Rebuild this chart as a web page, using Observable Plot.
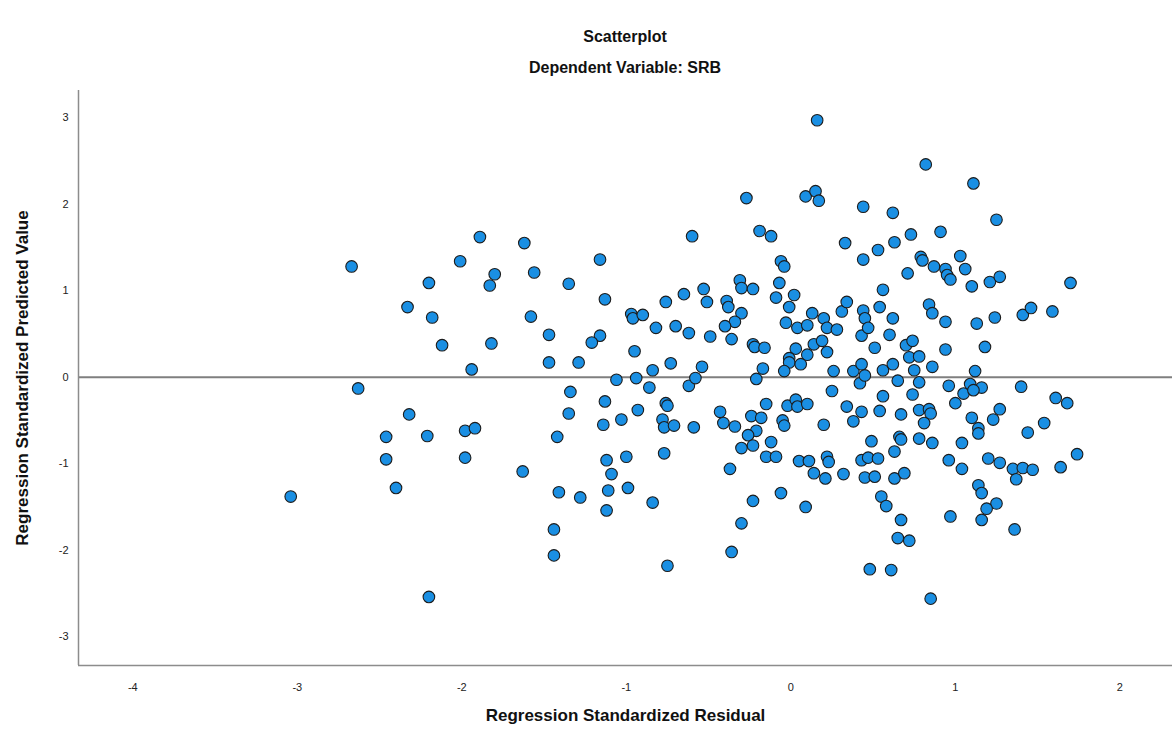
<!DOCTYPE html>
<html><head><meta charset="utf-8">
<script src="https://cdn.jsdelivr.net/npm/d3@7"></script>
<script src="https://cdn.jsdelivr.net/npm/@observablehq/plot@0.6"></script>
<style>
body{margin:0;background:#fff;font-family:"Liberation Sans",Arial,sans-serif;}
#wrap{width:1172px;position:relative;}
#head{height:85px;position:relative;}
.t{position:absolute;left:78px;right:0;text-align:center;font-weight:bold;font-size:16px;line-height:18px;color:#111;}
</style></head><body>
<div id="wrap">
<div id="head">
<div class="t" style="top:28px">Scatterplot</div>
<div class="t" style="top:59px">Dependent Variable: SRB</div>
</div>
<div id="chart"></div>
</div>
<script>
const residual = [
-2.67,-1.89,-1.62,-2.01,-1.80,-1.83,-2.20,-2.33,-2.18,-2.12,-1.82,
-1.94,-2.63,-2.32,-2.46,-2.21,-1.98,-1.92,-2.46,-1.98,-2.40,-3.04,-2.20,-1.63,
-0.60,-1.16,-1.56,-1.35,-0.53,-1.13,-0.65,-0.76,-1.58,-0.97,-0.96,-0.90,-1.47,-1.16,-1.21,-0.82,-0.70,-0.62,-0.95,
-1.47,-1.29,-0.73,-0.84,-1.06,-0.94,-0.86,-0.62,-0.58,-0.54,-1.34,-1.13,-1.35,-0.93,-0.76,-0.75,-1.14,-1.03,-0.78,-0.77,-0.71,-0.59,-1.42,-0.77,-1.12,-1.00,-1.09,-1.11,-0.99,-1.41,-1.28,-0.84,-1.12,-1.44,-1.44,-0.75,
0.16,-0.27,0.09,0.15,0.17,0.44,-0.19,-0.12,0.33,0.44,-0.06,-0.04,-0.31,-0.30,-0.23,-0.07,-0.51,-0.39,-0.38,-0.30,-0.09,0.02,-0.01,-0.34,-0.40,-0.36,-0.49,-0.03,0.04,0.10,0.13,0.20,0.22,0.28,0.31,0.34,0.44,0.43,-0.23,-0.22,-0.16,0.03,0.14,0.19,0.22,0.10,-0.01,
-0.01,0.06,-0.17,-0.21,-0.04,0.26,0.38,0.43,0.42,0.25,-0.43,-0.41,-0.34,-0.24,-0.18,-0.15,-0.02,0.03,0.04,0.10,-0.05,-0.04,-0.21,-0.26,-0.30,-0.23,-0.12,-0.15,-0.09,0.20,0.34,0.38,0.43,0.05,0.11,0.14,0.22,0.23,0.21,0.32,0.43,0.45,-0.37,-0.06,-0.23,0.09,-0.30,-0.36,
0.82,1.11,1.25,0.62,0.73,0.91,0.63,0.53,0.79,0.80,0.87,0.94,0.95,0.97,1.03,1.06,1.10,1.21,1.27,0.71,0.56,0.54,0.45,0.47,0.62,0.60,0.84,0.86,0.94,1.13,1.24,0.51,0.70,0.74,0.72,0.78,0.94,1.18,
0.45,0.56,0.62,0.75,0.86,0.65,0.78,0.74,0.56,0.96,1.05,1.09,1.12,1.16,1.11,1.00,0.54,0.67,0.78,0.84,0.85,0.81,1.10,1.14,1.14,1.23,1.27,0.49,0.66,0.67,0.78,0.86,1.04,0.63,0.47,0.53,0.96,1.04,1.20,1.27,1.35,0.51,0.63,0.69,1.14,1.16,1.25,1.19,1.16,0.55,0.58,0.67,0.97,0.65,0.72,1.36,0.48,0.61,0.85,
1.41,1.46,1.59,1.70,
1.40,1.61,1.68,1.54,1.44,1.74,1.64,1.41,1.47,1.37
];
const predicted = [
1.28,1.62,1.55,1.34,1.19,1.06,1.09,0.81,0.69,0.37,0.39,
0.09,-0.13,-0.43,-0.69,-0.68,-0.62,-0.59,-0.95,-0.93,-1.28,-1.38,-2.54,-1.09,
1.63,1.36,1.21,1.08,1.02,0.90,0.96,0.87,0.70,0.73,0.68,0.72,0.49,0.48,0.40,0.57,0.59,0.51,0.30,
0.17,0.17,0.16,0.08,-0.03,-0.01,-0.12,-0.10,-0.01,0.12,-0.17,-0.28,-0.42,-0.38,-0.30,-0.33,-0.55,-0.49,-0.49,-0.58,-0.56,-0.58,-0.69,-0.88,-0.96,-0.92,-1.12,-1.31,-1.28,-1.33,-1.39,-1.45,-1.54,-1.76,-2.06,-2.18,
2.97,2.07,2.09,2.15,2.04,1.97,1.69,1.63,1.55,1.36,1.34,1.28,1.12,1.03,1.02,1.09,0.87,0.88,0.81,0.74,0.92,0.95,0.81,0.64,0.59,0.44,0.47,0.63,0.57,0.60,0.74,0.68,0.57,0.55,0.76,0.87,0.77,0.48,0.38,0.35,0.34,0.33,0.38,0.42,0.29,0.26,0.22,
0.17,0.15,0.10,-0.02,0.07,0.07,0.07,0.15,-0.07,-0.16,-0.40,-0.53,-0.57,-0.45,-0.47,-0.31,-0.33,-0.26,-0.34,-0.31,-0.50,-0.56,-0.62,-0.67,-0.82,-0.79,-0.75,-0.92,-0.92,-0.55,-0.34,-0.51,-0.40,-0.97,-0.97,-1.11,-0.92,-0.98,-1.17,-1.12,-0.96,-1.16,-1.06,-1.34,-1.43,-1.50,-1.69,-2.02,
2.46,2.24,1.82,1.90,1.65,1.68,1.56,1.47,1.39,1.35,1.28,1.25,1.18,1.13,1.40,1.25,1.05,1.10,1.16,1.20,1.01,0.81,0.68,0.57,0.68,0.49,0.84,0.74,0.64,0.62,0.69,0.34,0.37,0.42,0.23,0.24,0.32,0.35,
0.02,0.08,0.15,0.08,0.12,-0.04,-0.06,-0.20,-0.22,-0.10,-0.19,-0.08,0.07,-0.12,-0.15,-0.30,-0.39,-0.43,-0.38,-0.37,-0.42,-0.53,-0.47,-0.59,-0.65,-0.49,-0.37,-0.74,-0.69,-0.72,-0.71,-0.76,-0.76,-0.86,-0.93,-0.94,-0.96,-1.06,-0.94,-0.99,-1.06,-1.15,-1.17,-1.11,-1.25,-1.34,-1.46,-1.52,-1.65,-1.38,-1.49,-1.65,-1.61,-1.86,-1.89,-1.76,-2.22,-2.23,-2.56,
0.72,0.80,0.76,1.09,
-0.11,-0.24,-0.30,-0.53,-0.64,-0.89,-1.04,-1.05,-1.07,-1.18
];
const xTicks = [-4,-3,-2,-1,0,1,2];
const yTicks = [-3,-2,-1,0,1,2,3];
const xDomain = [-4.33,2.32];
const yDomain = [-3.333,3.314];
const xLabel = "Regression Standardized Residual";
const yLabel = "Regression Standardized Predicted Value";

const data = residual.map((r,i)=>({r, p: predicted[i]}));
const font = "'Liberation Sans', Arial, sans-serif";
const chart = Plot.plot({
  width: 1172, height: 659,
  marginLeft: 78, marginRight: 0, marginTop: 5, marginBottom: 79,
  style: {fontFamily: font, fontSize: "11px", color: "#222", background: "#fff"},
  x: {domain: xDomain, ticks: xTicks, tickSize: 0, tickPadding: 18, label: null, tickFormat: d => String(d)},
  y: {domain: yDomain, ticks: yTicks, tickSize: 0, tickPadding: 10, label: null, tickFormat: d => String(d)},
  marks: [
    Plot.ruleY([0], {stroke: "#7f7f7f", strokeWidth: 2}),
    Plot.ruleX([xDomain[0]], {stroke: "#8c8c8c", strokeWidth: 1.5}),
    Plot.ruleY([yDomain[0]], {stroke: "#8c8c8c", strokeWidth: 1.5}),
    Plot.dot(data, {x: "r", y: "p", r: 5.8, fill: "#1a8fe3", stroke: "#1c1c1c", strokeWidth: 1.1}),
    Plot.text([xLabel], {frameAnchor: "bottom", textAnchor: "middle", dy: 55, fontSize: 17, fontWeight: "bold", fill: "#111", fontFamily: font}),
    Plot.text([yLabel], {frameAnchor: "left", textAnchor: "middle", dx: -56, rotate: -90, fontSize: 17, fontWeight: "bold", fill: "#111", fontFamily: font})
  ]
});
document.getElementById("chart").appendChild(chart);
</script>
</body></html>
